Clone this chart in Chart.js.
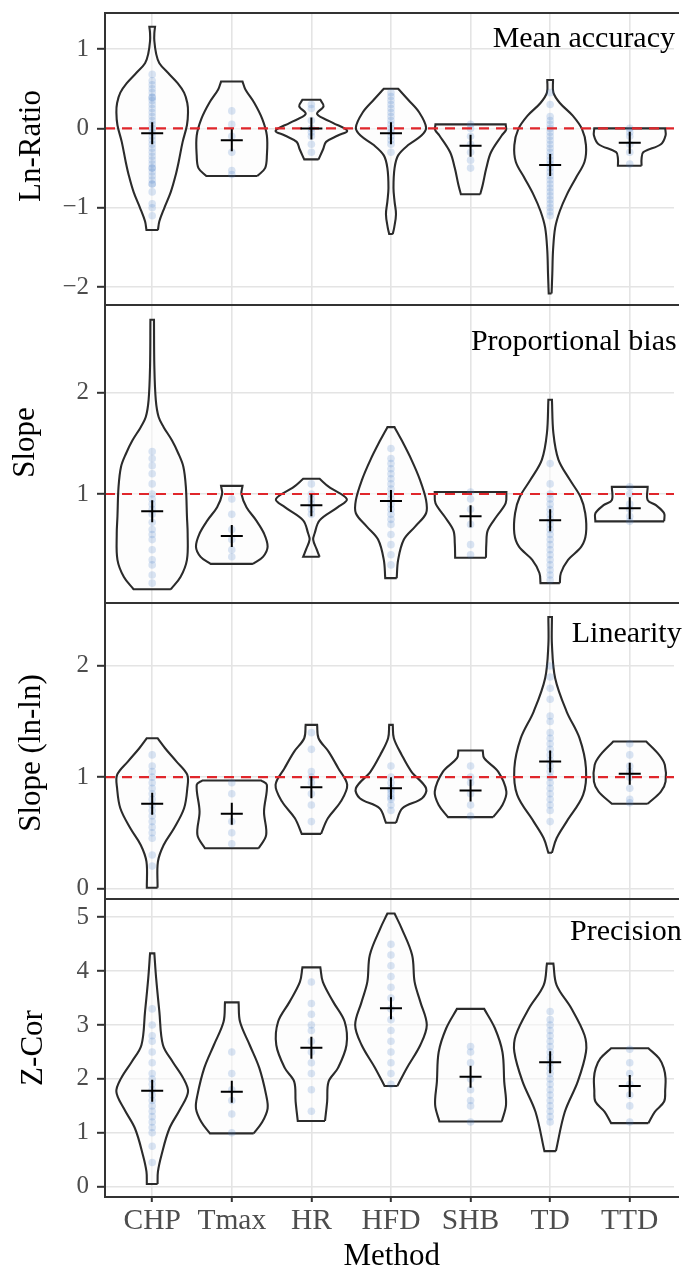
<!DOCTYPE html>
<html><head><meta charset="utf-8">
<script src="https://cdn.jsdelivr.net/npm/chart.js@4/dist/chart.umd.min.js"></script>
<style>
html,body{margin:0;padding:0;background:#fff;width:687px;height:1272px;overflow:hidden}
canvas{position:absolute;left:0;top:0}
</style></head>
<body>
<canvas id="p0" width="687" height="1272"></canvas>
<canvas id="p1" width="687" height="1272"></canvas>
<canvas id="p2" width="687" height="1272"></canvas>
<canvas id="p3" width="687" height="1272"></canvas>
<script>
// ---------- DATA ----------
const categories = ['CHP','Tmax','HR','HFD','SHB','TD','TTD'];
const panelTitles = ['Mean accuracy','Proportional bias','Linearity','Precision'];
const yTitles = ['Ln-Ratio','Slope','Slope (ln-ln)','Z-Cor'];
const xTitle = 'Method';
const yTicksAccuracy = [-2,-1,0,1];
const yTicksBias = [1,2];
const yTicksLinearity = [0,1,2];
const yTicksPrecision = [0,1,2,3,4,5];
const referenceValues = [0,1,1,null];

// mean markers (+)
const meanAccuracy = [-0.06,-0.15,0.0,-0.06,-0.22,-0.46,-0.18];
const meanBias = [0.83,0.585,0.89,0.93,0.78,0.74,0.86];
const meanLinearity = [0.76,0.67,0.91,0.90,0.88,1.14,1.03];
const meanPrecision = [1.78,1.76,2.58,3.31,2.04,2.31,1.87];

// violin density profiles: [value, relative half-width], top to bottom
const violinAccuracy = [
 [[1.28,.08],[1.2,.06],[1.1,.06],[0.94,.11],[0.82,.20],[0.70,.44],[0.57,.71],[0.45,.89],[0.32,.98],[0.2,1.0],[0.04,.97],[-0.17,.85],[-0.42,.74],[-0.58,.66],[-0.8,.52],[-1.0,.34],[-1.17,.20],[-1.28,.16]],
 [[0.59,.30],[0.49,.38],[0.32,.63],[0.12,.85],[-0.09,.98],[-0.34,.98],[-0.5,.93],[-0.6,.71]],
 [[0.36,.25],[0.28,.34],[0.18,.16],[0.07,.60],[-0.03,1.0],[-0.09,.74],[-0.17,.41],[-0.26,.33],[-0.39,.20]],
 [[0.5,.20],[0.36,.48],[0.2,.79],[0.01,.98],[-0.09,.85],[-0.21,.48],[-0.34,.20],[-0.5,.10],[-0.75,.07],[-0.92,.10],[-1.08,.14],[-1.25,.09],[-1.33,.05]],
 [[0.05,.98],[-0.02,.99],[-0.09,.87],[-0.3,.57],[-0.5,.44],[-0.71,.34],[-0.83,.27]],
 [[0.61,.08],[0.45,.09],[0.32,.27],[0.16,.63],[-0.01,.89],[-0.21,1.0],[-0.42,.96],[-0.63,.71],[-0.84,.46],[-1.04,.27],[-1.25,.14],[-1.54,.08],[-1.83,.06],[-2.08,.04]],
 [[0.0,.99],[-0.09,1.0],[-0.2,.87],[-0.3,.38],[-0.38,.33],[-0.47,.33]]
];
const violinBias = [
 [[2.72,.05],[2.26,.06],[1.93,.10],[1.76,.18],[1.66,.32],[1.53,.55],[1.4,.73],[1.27,.87],[1.07,.94],[0.78,.97],[0.61,.99],[0.35,.97],[0.18,.79],[0.06,.52]],
 [[1.08,.30],[1.0,.27],[0.87,.41],[0.74,.68],[0.61,.90],[0.48,1.0],[0.38,.87],[0.31,.59]],
 [[1.15,.23],[1.07,.49],[0.95,.99],[0.87,.74],[0.74,.23],[0.61,.09],[0.55,.05],[0.46,.14],[0.38,.23]],
 [[1.66,.10],[1.53,.30],[1.34,.57],[1.14,.81],[0.94,.98],[0.81,.98],[0.68,.68],[0.55,.36],[0.35,.20],[0.17,.16]],
 [[1.02,1.0],[0.91,.98],[0.78,.73],[0.64,.48],[0.51,.44],[0.37,.43]],
 [[1.93,.05],[1.6,.09],[1.34,.23],[1.14,.55],[0.97,.85],[0.81,.98],[0.61,1.0],[0.48,.87],[0.35,.50],[0.22,.30],[0.12,.27]],
 [[1.07,.50],[0.94,.50],[0.89,.73],[0.81,.96],[0.73,.96]]
];
const violinLinearity = [
 [[1.35,.15],[1.26,.36],[1.14,.68],[1.02,.98],[0.9,.98],[0.72,.89],[0.54,.61],[0.39,.32],[0.24,.16],[0.005,.15]],
 [[0.97,.82],[0.93,.98],[0.69,.90],[0.48,.96],[0.36,.75]],
 [[1.47,.16],[1.35,.20],[1.23,.48],[1.08,.75],[0.93,1.0],[0.78,.82],[0.63,.46],[0.49,.27]],
 [[1.47,.05],[1.35,.08],[1.2,.30],[1.05,.57],[0.9,.98],[0.81,.87],[0.72,.32],[0.59,.14]],
 [[1.24,.34],[1.17,.38],[1.05,.77],[0.87,1.0],[0.75,.89],[0.64,.63]],
 [[2.44,.05],[2.19,.05],[1.89,.14],[1.59,.46],[1.35,.82],[1.08,1.0],[0.84,.92],[0.6,.46],[0.45,.18],[0.32,.05]],
 [[1.32,.46],[1.2,.82],[1.11,.98],[0.96,1.0],[0.87,.87],[0.76,.50]]
];
const violinPrecision = [
 [[4.33,.06],[3.87,.11],[3.25,.20],[2.63,.30],[2.32,.57],[2.01,.87],[1.76,1.0],[1.45,.79],[1.08,.48],[0.59,.26],[0.28,.16],[0.05,.15]],
 [[3.42,.19],[3.06,.23],[2.63,.50],[2.2,.77],[1.7,.96],[1.45,1.0],[1.2,.85],[0.99,.61]],
 [[4.07,.25],[3.8,.32],[3.43,.61],[3.06,.93],[2.63,.98],[2.2,.74],[1.95,.48],[1.58,.44],[1.22,.38]],
 [[5.07,.10],[4.79,.30],[4.3,.59],[3.8,.66],[3.43,.82],[3.0,1.0],[2.63,.82],[2.2,.44],[1.87,.18]],
 [[3.3,.38],[2.94,.68],[2.5,.89],[1.95,.94],[1.52,.99],[1.21,.87]],
 [[4.14,.09],[3.74,.18],[3.31,.59],[2.81,.96],[2.5,1.0],[1.95,.77],[1.39,.41],[0.66,.16]],
 [[2.57,.52],[2.38,.82],[2.2,.95],[2.01,1.0],[1.8,.99],[1.58,.96],[1.39,.70],[1.18,.52]]
];

// individual observations (light blue dots)
const dotsAccuracy = [
 [0.68,0.6,0.55,0.5,0.45,0.39,0.39,0.35,0.3,0.25,0.2,0.15,0.1,0.05,0,-0.05,-0.1,-0.15,-0.2,-0.25,-0.3,-0.35,-0.4,-0.45,-0.5,-0.5,-0.55,-0.6,-0.65,-0.7,-0.7,-0.8,-0.95,-1.0,-1.1],
 [0.22,0.05,-0.1,-0.3,-0.53,-0.58],
 [0.3,0.25,0.1,0,-0.05,-0.1,-0.2,-0.3],
 [0.45,0.4,0.35,0.3,0.25,0.2,0.15,0.1,0.05,0,-0.05,-0.1,-0.15,-0.2,-0.3],
 [0.05,0,-0.1,-0.2,-0.3,-0.4,-0.5],
 [0.45,0.3,0.15,0.1,0.05,0,-0.05,-0.1,-0.15,-0.2,-0.25,-0.3,-0.35,-0.4,-0.45,-0.5,-0.55,-0.6,-0.65,-0.7,-0.75,-0.8,-0.85,-0.9,-0.95,-1.0,-1.05,-1.1],
 [0,-0.05,-0.1,-0.2,-0.3,-0.45]
];
const dotsBias = [
 [1.42,1.35,1.28,1.2,1.1,1.0,0.95,0.9,0.85,0.8,0.72,0.65,0.6,0.55,0.45,0.35,0.3,0.2,0.12],
 [0.95,0.8,0.65,0.55,0.45,0.38],
 [1.1,1.0,0.95,0.9,0.85,0.8],
 [1.45,1.35,1.3,1.25,1.2,1.15,1.1,1.05,1.0,0.95,0.9,0.85,0.8,0.75,0.7,0.6,0.5,0.4,0.3],
 [1.02,0.95,0.85,0.7,0.5,0.4],
 [1.3,1.1,1.0,0.95,0.9,0.85,0.8,0.75,0.7,0.65,0.6,0.55,0.5,0.45,0.4,0.35,0.3,0.25,0.2,0.15],
 [1.07,1.0,0.9,0.85,0.78,0.73]
];
const dotsLinearity = [
 [1.2,1.1,1.05,1.0,0.95,0.9,0.85,0.8,0.75,0.7,0.65,0.6,0.55,0.5,0.45,0.3,0.2],
 [0.95,0.85,0.6,0.5,0.4],
 [1.4,1.25,1.05,1.0,0.95,0.85,0.75,0.6],
 [1.1,1.0,0.95,0.9,0.88,0.85,0.82,0.8,0.75,0.7],
 [1.1,1.0,0.95,0.85,0.75,0.65],
 [2.0,1.9,1.8,1.7,1.55,1.5,1.4,1.35,1.3,1.25,1.2,1.15,1.1,1.05,1.0,0.95,0.9,0.85,0.8,0.75,0.7,0.6],
 [1.3,1.2,1.1,1.05,1.0,0.9,0.8,0.77]
];
const dotsPrecision = [
 [3.3,3.0,2.8,2.7,2.5,2.3,2.1,2.0,1.9,1.8,1.7,1.6,1.5,1.4,1.3,1.2,1.1,1.0,0.75,0.45],
 [2.5,2.1,1.8,1.6,1.35,1.0],
 [3.8,3.4,3.2,3.0,2.9,2.7,2.5,2.3,2.1,1.8,1.4],
 [4.5,4.3,4.1,3.9,3.7,3.5,3.3,3.1,2.9,2.7,2.5,2.3,2.1,1.9],
 [2.6,2.5,2.3,2.0,1.8,1.6,1.5,1.2],
 [3.25,3.1,3.0,2.9,2.8,2.7,2.6,2.5,2.4,2.3,2.2,2.1,2.0,1.9,1.8,1.7,1.6,1.5,1.4,1.3,1.2],
 [2.55,2.3,2.1,1.9,1.7,1.5,1.2]
];

// ---------- LAYOUT / STYLE ----------
const W = 687, H = 1272;
const X_MIN = -0.593, X_MAX = 6.556;
const HALF = 0.45;
const SERIF = "'Liberation Serif','Times New Roman',serif";
const panels = [
 {violins: violinAccuracy, dots: dotsAccuracy, means: meanAccuracy, ticks: yTicksAccuracy, ref: referenceValues[0],
  top: 9, bottom: 305, ymin: -2.224, ymax: 1.453,
  title: {text: panelTitles[0], x: 675, y: 46.7}, ytitle: {text: yTitles[0], x: 40, y: 146}},
 {violins: violinBias, dots: dotsBias, means: meanBias, ticks: yTicksBias, ref: referenceValues[1],
  top: 305, bottom: 603, ymin: -0.076, ymax: 2.866,
  title: {text: panelTitles[1], x: 676.7, y: 350}, ytitle: {text: yTitles[1], x: 34, y: 442.5}},
 {violins: violinLinearity, dots: dotsLinearity, means: meanLinearity, ticks: yTicksLinearity, ref: referenceValues[2],
  top: 603, bottom: 899, ymin: -0.096, ymax: 2.566,
  title: {text: panelTitles[2], x: 681.7, y: 641.7}, ytitle: {text: yTitles[2], x: 40, y: 753}},
 {violins: violinPrecision, dots: dotsPrecision, means: meanPrecision, ticks: yTicksPrecision, ref: referenceValues[3],
  top: 899, bottom: 1197, ymin: -0.191, ymax: 5.339,
  title: {text: panelTitles[3], x: 681.7, y: 940}, ytitle: {text: yTitles[3], x: 41.5, y: 1048},
  xtitle: {text: xTitle, x: 391.7, y: 1265}}
];

function violinPolygon(profile, i) {
  const pts = [];
  const up = profile.slice().reverse();
  up.forEach(([y, w], k) => {
    pts.push({x: i + w * HALF, y});
    if (k === 0 || k === up.length - 1) pts.push({x: i + w * HALF, y});
  });
  profile.forEach(([y, w], k) => {
    pts.push({x: i - w * HALF, y});
    if (k === 0 || k === profile.length - 1) pts.push({x: i - w * HALF, y});
  });
  pts.push({x: i + up[0][1] * HALF, y: up[0][0]});
  return pts;
}

const decor = {
  id: 'decor',
  afterDraw(chart, args, o) {
    const ctx = chart.ctx, a = chart.chartArea;
    ctx.save();
    ctx.strokeStyle = '#333333';
    ctx.lineWidth = 2;
    ctx.beginPath();
    ctx.moveTo(a.right + 5, a.top);
    ctx.lineTo(a.left, a.top);
    ctx.lineTo(a.left, a.bottom);
    ctx.lineTo(a.right + 5, a.bottom);
    ctx.stroke();
    ctx.fillStyle = '#000';
    ctx.textBaseline = 'alphabetic';
    ctx.font = '30px ' + SERIF;
    ctx.textAlign = 'right';
    ctx.fillText(o.title.text, o.title.x, o.title.y);
    ctx.save();
    ctx.translate(o.ytitle.x, o.ytitle.y);
    ctx.rotate(-Math.PI / 2);
    ctx.textAlign = 'center';
    ctx.font = '31px ' + SERIF;
    ctx.fillText(o.ytitle.text, 0, 0);
    ctx.restore();
    if (o.xtitle) {
      ctx.textAlign = 'center';
      ctx.font = '31px ' + SERIF;
      ctx.fillText(o.xtitle.text, o.xtitle.x, o.xtitle.y);
    }
    ctx.restore();
  }
};

panels.forEach((p, idx) => {
  const isLast = idx === panels.length - 1;
  const datasets = [];
  categories.forEach((c, i) => {
    datasets.push({
      type: 'scatter', label: c + ' violin', order: 3,
      data: violinPolygon(p.violins[i], i),
      showLine: true, tension: 0.35, fill: 'shape',
      backgroundColor: 'rgba(252,252,252,0.6)',
      borderColor: '#2b2b2b', borderWidth: 2.1, pointRadius: 0
    });
  });
  categories.forEach((c, i) => {
    datasets.push({
      type: 'scatter', label: c + ' obs', order: 2,
      data: p.dots[i].map(v => ({x: i, y: v})),
      pointRadius: 3.8, pointBorderWidth: 0,
      backgroundColor: 'rgba(70,125,200,0.2)'
    });
  });
  if (p.ref !== null) {
    datasets.push({
      type: 'scatter', label: 'reference', order: 1,
      data: [{x: X_MIN, y: p.ref}, {x: X_MAX, y: p.ref}],
      showLine: true, borderColor: '#e0262b', borderWidth: 2.2,
      borderDash: [10, 7], pointRadius: 0, fill: false
    });
  }
  datasets.push({
    type: 'scatter', label: 'mean', order: 0,
    data: p.means.map((v, i) => ({x: i, y: v})),
    pointStyle: 'cross', pointRadius: 11, pointBorderWidth: 2,
    borderColor: '#000', backgroundColor: '#000'
  });

  new Chart(document.getElementById('p' + idx), {
    type: 'scatter',
    data: {datasets},
    options: {
      responsive: false, animation: false, events: [],
      layout: {padding: {top: p.top, bottom: isLast ? 0 : H - p.bottom, left: 0, right: 0}},
      plugins: {legend: {display: false}, tooltip: {enabled: false}, decor: p},
      scales: {
        x: {
          type: 'linear', min: X_MIN, max: X_MAX,
          afterBuildTicks: s => { s.ticks = categories.map((c, i) => ({value: i})); },
          afterFit: s => { s.height = isLast ? H - p.bottom : 0; s.paddingLeft = 0; s.paddingRight = 0; },
          grid: {color: '#e4e4e4', lineWidth: 1.6, drawTicks: isLast, tickLength: 5, tickColor: '#333', tickWidth: 2},
          border: {display: false},
          ticks: {display: isLast, autoSkip: false, maxRotation: 0, minRotation: 0, padding: 2,
            color: '#4d4d4d', font: {family: SERIF, size: 29.5},
            callback: v => categories[v]}
        },
        y: {
          type: 'linear', min: p.ymin, max: p.ymax,
          afterBuildTicks: s => { s.ticks = p.ticks.map(v => ({value: v})); },
          afterFit: s => { s.width = 105; s.paddingTop = 0; s.paddingBottom = 0; },
          grid: {color: '#e4e4e4', lineWidth: 1.6, tickLength: 8, tickColor: '#333', tickWidth: 2},
          border: {display: false},
          ticks: {padding: 8, color: '#4d4d4d', font: {family: SERIF, size: 25},
            callback: v => (v < 0 ? '\u2212' + Math.abs(v) : String(v))}
        }
      }
    },
    plugins: [decor]
  });
});
</script>
</body></html>
